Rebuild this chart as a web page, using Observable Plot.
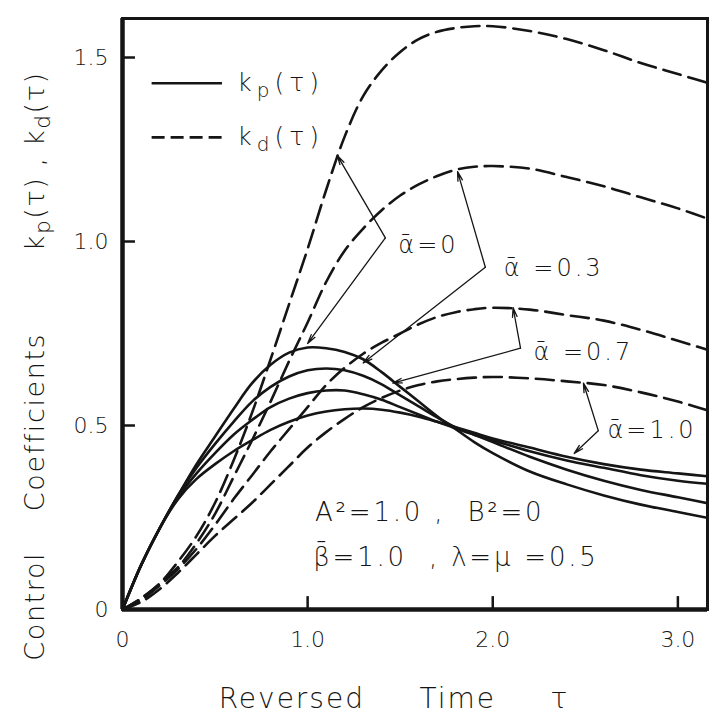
<!DOCTYPE html>
<html><head><meta charset="utf-8">
<script src="https://cdn.jsdelivr.net/npm/d3@7"></script>
<script src="https://cdn.jsdelivr.net/npm/@observablehq/plot@0.6"></script>
<style>
body{margin:0;background:#fff}
svg text{white-space:pre;font-family:'DejaVu Sans',sans-serif;font-weight:200}
</style>
</head><body><div id="chart"></div>
<script>
// reversed time τ
const tau = [0,0.1,0.2,0.3,0.4,0.5,0.6,0.7,0.8,0.9,1.0,1.1,1.2,1.3,1.4,1.5,1.6,1.7,1.8,1.9,2.0,2.2,2.4,2.6,2.8,3.0,3.2];
const alphas = ["0","0.3","0.7","1.0"];
// k_p(τ) (solid)
const kp_a0  = [0,0.12,0.22,0.31,0.395,0.47,0.545,0.615,0.665,0.698,0.712,0.71,0.70,0.68,0.645,0.605,0.565,0.525,0.49,0.455,0.425,0.375,0.34,0.31,0.285,0.265,0.245];
const kp_a03 = [0,0.12,0.22,0.31,0.385,0.45,0.51,0.565,0.605,0.633,0.65,0.655,0.65,0.635,0.612,0.582,0.552,0.522,0.495,0.475,0.455,0.415,0.38,0.35,0.325,0.305,0.285];
const kp_a07 = [0,0.12,0.22,0.305,0.37,0.425,0.475,0.515,0.55,0.573,0.588,0.595,0.595,0.585,0.57,0.55,0.53,0.51,0.492,0.475,0.46,0.43,0.405,0.385,0.365,0.35,0.34];
const kp_a10 = [0,0.12,0.22,0.30,0.355,0.395,0.43,0.46,0.488,0.51,0.527,0.538,0.544,0.546,0.543,0.535,0.524,0.51,0.495,0.48,0.465,0.44,0.415,0.395,0.38,0.37,0.36];
// k_d(τ) (dashed)
const kd_a0  = [0,0.03,0.07,0.13,0.20,0.29,0.405,0.535,0.68,0.83,0.98,1.14,1.285,1.395,1.465,1.515,1.55,1.57,1.58,1.585,1.585,1.572,1.55,1.52,1.485,1.455,1.425];
const kd_a03 = [0,0.03,0.07,0.115,0.18,0.26,0.36,0.46,0.565,0.675,0.78,0.89,0.975,1.035,1.085,1.125,1.155,1.178,1.195,1.203,1.205,1.198,1.175,1.15,1.12,1.09,1.055];
const kd_a07 = [0,0.025,0.065,0.11,0.165,0.23,0.30,0.365,0.43,0.49,0.55,0.61,0.657,0.695,0.725,0.75,0.775,0.795,0.808,0.816,0.82,0.815,0.80,0.785,0.76,0.73,0.70];
const kd_a10 = [0,0.02,0.055,0.10,0.15,0.20,0.245,0.29,0.34,0.39,0.44,0.482,0.518,0.55,0.575,0.595,0.61,0.62,0.626,0.63,0.632,0.628,0.62,0.61,0.59,0.565,0.535];

const xTicks = [0,1,2,3];
const xTickLabels = ["0","1.0","2.0","3.0"];
const yTicks = [0,0.5,1.0,1.5];
const yTickLabels = ["0","0.5","1.0","1.5"];

// annotation leaders (data units): corner -> two arrow tips
const leaders = [
  {label:"ᾱ=0",    lx:1.49, ly:0.99,  cx:1.42, cy:1.01,  t1x:1.16, t1y:1.234, t2x:1.00, t2y:0.723},
  {label:"ᾱ =0.3", lx:2.06, ly:0.927, cx:1.96, cy:0.93,  t1x:1.81, t1y:1.19,  t2x:1.30, t2y:0.67},
  {label:"ᾱ =0.7", lx:2.22, ly:0.70,  cx:2.15, cy:0.71,  t1x:2.11, t1y:0.82,  t2x:1.46, t2y:0.615},
  {label:"ᾱ=1.0",  lx:2.62, ly:0.486, cx:2.57, cy:0.486, t1x:2.49, t1y:0.615, t2x:2.44, t2y:0.424}
];
const legendItems = [
  {label:"k_p(τ)", x1:0.16, x2:0.54, y:1.43, dashed:false},
  {label:"k_d(τ)", x1:0.16, x2:0.54, y:1.283, dashed:true}
];
const paramLines = [
  {text:"A²=1.0 ,  B²=0", x:1.04, y:0.262},
  {text:"β̄=1.0  , λ=μ =0.5", x:1.03, y:0.141}
];
const xTitle = "Reversed\u00a0\u00a0\u00a0\u00a0\u00a0Time\u00a0\u00a0\u00a0\u00a0\u00a0τ";
const yTitle = "Control\u00a0\u00a0\u00a0\u00a0Coefficients\u00a0\u00a0\u00a0\u00a0\u00a0\u00a0\u00a0\u00a0k_p(τ)\u00a0,\u00a0k_d(τ)";

function rowsFor(arrs){
  const out = [];
  arrs.forEach((vals, s) => vals.forEach((v, i) => out.push({tau: tau[i], k: v, alpha: alphas[s]})));
  return out;
}
const kpRows = rowsFor([kp_a0, kp_a03, kp_a07, kp_a10]);
const kdRows = rowsFor([kd_a0, kd_a03, kd_a07, kd_a10]);
const xLab = new Map(xTicks.map((d,i)=>[d,xTickLabels[i]]));
const yLab = new Map(yTicks.map((d,i)=>[d,yTickLabels[i]]));

const ink = "#151515";

const chart = Plot.plot({
  width: 710, height: 718,
  marginLeft: 122, marginRight: 3, marginTop: 18, marginBottom: 109,
  x: {domain: [0, 3.16], axis: null},
  y: {domain: [0, 1.606], axis: null},
  style: {fontFamily: "'DejaVu Sans', sans-serif", color: ink, background: "#fff"},
  marks: [
    Plot.line(kpRows, {x: "tau", y: "k", z: "alpha", stroke: ink, strokeWidth: 2.6, curve: "catmull-rom", clip: true}),
    Plot.line(kdRows, {x: "tau", y: "k", z: "alpha", stroke: ink, strokeWidth: 2.6, strokeDasharray: "18,8", curve: "catmull-rom", clip: true}),
    Plot.ruleX(xTicks.slice(1), {y1: 0, y2: 0.035, stroke: ink, strokeWidth: 2.5}),
    Plot.ruleY(yTicks.slice(1), {x1: 0, x2: 0.07, stroke: ink, strokeWidth: 2.5}),
    Plot.frame({stroke: ink, strokeWidth: 3}),
    Plot.ruleX([0], {stroke: ink, strokeWidth: 4.5}),
    Plot.ruleY([0], {stroke: ink, strokeWidth: 4.5}),
    Plot.axisX(xTicks, {tickSize: 0, tickPadding: 22, tickFormat: d => xLab.get(d), fontSize: 22, fill: ink}),
    Plot.axisY(yTicks, {tickSize: 0, tickPadding: 14, tickFormat: d => yLab.get(d), fontSize: 22, fill: ink}),
    // legend
    Plot.ruleY(legendItems.filter(d => !d.dashed), {y: "y", x1: "x1", x2: "x2", stroke: ink, strokeWidth: 2.6}),
    Plot.ruleY(legendItems.filter(d => d.dashed), {y: "y", x1: "x1", x2: "x2", stroke: ink, strokeWidth: 2.6, strokeDasharray: "13,6"}),
    Plot.text(legendItems, {x: d => d.x2 + 0.08, y: "y", text: "label", textAnchor: "start", fontSize: 25, fill: ink}),
    // leaders
    Plot.arrow(leaders, {x1: "cx", y1: "cy", x2: "t1x", y2: "t1y", stroke: ink, strokeWidth: 1.3, headLength: 11, headAngle: 28}),
    Plot.arrow(leaders, {x1: "cx", y1: "cy", x2: "t2x", y2: "t2y", stroke: ink, strokeWidth: 1.3, headLength: 11, headAngle: 28}),
    Plot.text(leaders, {x: "lx", y: "ly", text: "label", textAnchor: "start", fontSize: 24, fill: ink}),
    Plot.text(paramLines, {x: "x", y: "y", text: "text", textAnchor: "start", fontSize: 26, fill: ink}),
    // axis titles
    Plot.text([xTitle], {frameAnchor: "bottom", dy: 98, dx: -21, textAnchor: "middle", fontSize: 28, fill: ink}),
    Plot.text([yTitle], {frameAnchor: "left", rotate: -90, dx: -87, dy: 52, textAnchor: "middle", fontSize: 27, fill: ink})
  ]
});

const svg = d3.select(chart);
// letter spacing for titles and annotations (not tick labels)
const spacing = new Map([
  [xTitle, 2], [yTitle, 1.6],
  ...legendItems.map(d => [d.label, 5]),
  ...leaders.map(d => [d.label, 3]),
  ...paramLines.map(d => [d.text, 2.8])
]);
svg.selectAll("text").each(function(){
  const t = this.textContent;
  if (spacing.has(t)) d3.select(this).style("letter-spacing", spacing.get(t) + "px");
});
// subscripts for k_p / k_d
svg.selectAll("text").each(function(){
  const t = this.textContent;
  if (!t.includes("_")) return;
  const parts = t.split(/_(\w)/);
  const sel = d3.select(this);
  sel.text(null);
  let shifted = false;
  parts.forEach((p, i) => {
    if (i % 2 === 0) {
      const ts = sel.append("tspan").text(p);
      if (shifted) { ts.attr("dy", "-6"); shifted = false; }
    } else {
      sel.append("tspan").attr("dy", "6").attr("font-size", "80%").text(p);
      shifted = true;
    }
  });
});

document.getElementById("chart").appendChild(chart);
</script>
</body></html>
